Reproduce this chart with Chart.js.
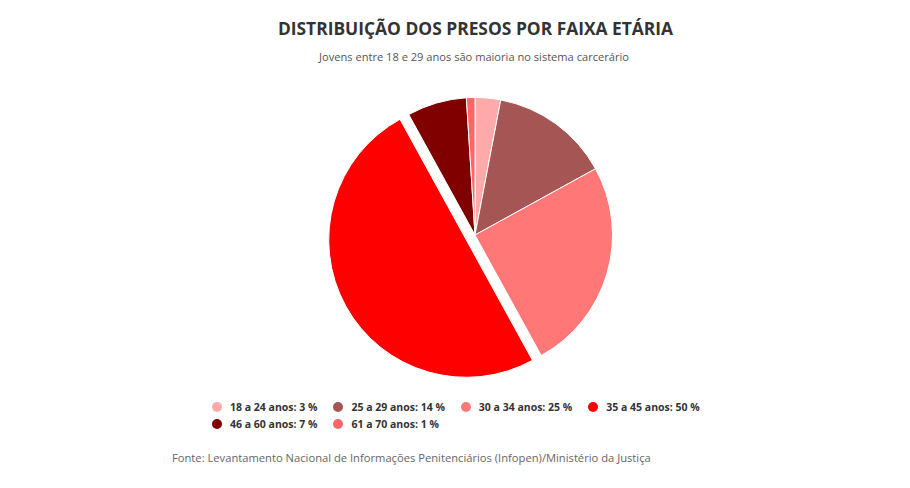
<!DOCTYPE html>
<html lang="pt-BR">
<head>
<meta charset="utf-8">
<script src="https://cdn.jsdelivr.net/npm/chart.js@4.4.1/dist/chart.umd.min.js"></script>
<style>
  html, body { margin: 0; padding: 0; background: #fff; }
  body { width: 910px; height: 488px; position: relative; overflow: hidden; font-family: 'Open Sans', sans-serif; }
  #title { position: absolute; left: 0; width: 951px; top: 16px; text-align: center; font-size: 17.4px; font-weight: 700; color: #333; }
  #subtitle { position: absolute; left: 0; width: 948px; top: 49px; text-align: center; font-size: 11.1px; color: #555; }
  #wrap { position: absolute; left: 325px; top: 85px; width: 300px; height: 300px; }
  #legend { position: absolute; left: 212px; top: 399px; width: 520px; display: flex; flex-wrap: wrap; row-gap: 1px; }
  .item { display: flex; align-items: center; margin-right: 16px; font-size: 10.5px; font-weight: 700; color: #333; height: 16px; }
  .dot { width: 10px; height: 10px; border-radius: 50%; margin-right: 8px; }
  #source { position: absolute; left: 172px; top: 450px; font-size: 11.2px; color: #666; }
</style>
</head>
<body>
<div id="title">DISTRIBUIÇÃO DOS PRESOS POR FAIXA ETÁRIA</div>
<div id="subtitle">Jovens entre 18 e 29 anos são maioria no sistema carcerário</div>
<div id="wrap"><canvas id="pie"></canvas></div>
<div id="legend"></div>
<div id="source">Fonte: Levantamento Nacional de Informações Penitenciários (Infopen)/Ministério da Justiça</div>
<script>
const faixas  = ['18 a 24 anos', '25 a 29 anos', '30 a 34 anos', '35 a 45 anos', '46 a 60 anos', '61 a 70 anos']
const valores = [3, 14, 25, 50, 7, 1]
const cores   = ['#ffaaaa', '#a65555', '#ff7777', '#ff0000', '#800000', '#ff6666']
const destaque = [0, 0, 0, 10, 0, 0]   // px the slice is pulled out

// Legend
document.getElementById('legend').innerHTML = faixas.map((f, i) => `
  <div class="item"><span class="dot" style="background:${cores[i]}"></span>${f}: ${valores[i]} %</div>
`).join('')

// pull slices out without growing them (Chart.js offset also enlarges the arc)
const explode = {
  id: 'explode',
  afterDatasetsUpdate(chart) {
    chart.getDatasetMeta(0).data.forEach((arc, i) => {
      const d = destaque[i]
      if (!d) return
      const mid = (arc.startAngle + arc.endAngle) / 2
      arc.x += Math.cos(mid) * d
      arc.y += Math.sin(mid) * d
    })
  }
}

new Chart(document.getElementById('pie'), {
  type: 'pie',
  data: {
    labels: faixas,
    datasets: [{
      data: valores,
      backgroundColor: cores,
      borderColor: '#fff',
      borderWidth: 1,
      hoverOffset: 0,
    }]
  },
  options: {
    responsive: true,
    maintainAspectRatio: false,
    animation: false,
    layout: { padding: 12 },
    plugins: {
      legend: { display: false },
      tooltip: { enabled: false }
    }
  },
  plugins: [explode]
})
</script>
</body>
</html>
